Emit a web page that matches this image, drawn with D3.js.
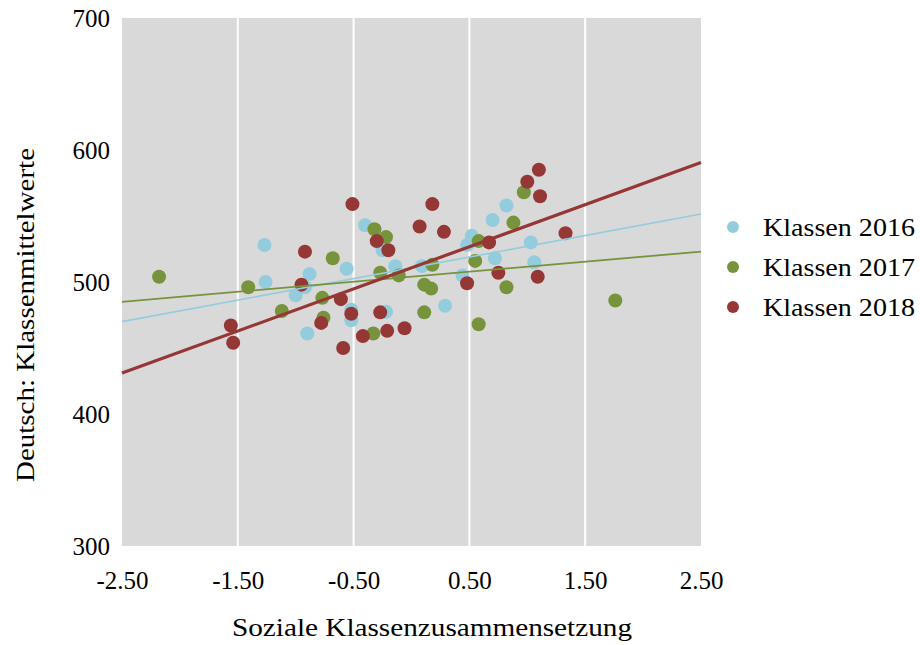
<!DOCTYPE html>
<html>
<head>
<meta charset="utf-8">
<script src="https://cdn.jsdelivr.net/npm/d3@7"></script>
<style>
  html, body { margin: 0; padding: 0; background: #ffffff; }
  svg text { font-family: "Liberation Serif", "DejaVu Serif", serif; fill: #000; }
</style>
</head>
<body>
<svg id="chart" width="920" height="645"></svg>
<script>
// Class means (Deutsch) against social composition of the class, per cohort
const klassen2016 = [
  [-1.27, 528], [-1.26, 500], [-0.88, 506], [-0.92, 496], [-1.00, 490], [-0.90, 461],
  [-0.56, 510], [-0.40, 543], [-0.25, 524], [-0.52, 479], [-0.52, 471], [-0.22, 477.5],
  [-0.14, 512], [0.09, 512], [0.29, 482], [0.44, 505], [0.52, 535], [0.48, 528],
  [0.72, 518], [0.70, 547], [0.82, 558], [1.03, 530], [1.06, 515]
];
const klassen2017 = [
  [-2.18, 504], [-1.41, 496], [-1.12, 478], [-0.68, 518], [-0.77, 488], [-0.76, 473],
  [-0.32, 540], [-0.22, 534], [-0.33, 461], [-0.27, 507], [-0.11, 505], [0.18, 513],
  [0.11, 498], [0.17, 495], [0.11, 477], [0.58, 531], [0.55, 516], [0.82, 496],
  [0.58, 468], [0.88, 545], [0.97, 568], [1.76, 486]
];
const klassen2018 = [
  [-1.56, 467], [-1.54, 454], [-0.92, 523], [-0.95, 498], [-0.61, 487], [-0.78, 469],
  [-0.51, 559], [-0.30, 531], [-0.20, 524], [-0.52, 476], [-0.27, 477], [-0.21, 463],
  [-0.42, 459], [-0.59, 450], [-0.06, 465], [0.07, 542], [0.18, 559], [0.28, 538],
  [0.48, 499], [0.67, 530], [0.75, 507], [1.00, 576], [1.10, 585], [1.11, 565],
  [1.09, 504], [1.33, 537]
];
// Linear trend lines: value at the left and right end of the x range
const trend2016 = [[-2.5, 470], [2.5, 551.5]];
const trend2017 = [[-2.5, 485], [2.5, 523]];
const trend2018 = [[-2.5, 431], [2.5, 590.5]];

const seriesNames = ["Klassen 2016", "Klassen 2017", "Klassen 2018"];
const xTicks = [-2.5, -1.5, -0.5, 0.5, 1.5, 2.5];
const yTicks = [300, 400, 500, 600, 700];

const colors = ["#93cddd", "#77933c", "#953735"];
const series = [
  { name: seriesNames[0], points: klassen2016, trend: trend2016, color: colors[0], lw: 1.6 },
  { name: seriesNames[1], points: klassen2017, trend: trend2017, color: colors[1], lw: 1.8 },
  { name: seriesNames[2], points: klassen2018, trend: trend2018, color: colors[2], lw: 3.2 }
];

const svg = d3.select("#chart");
const plot = { left: 122, top: 18, right: 701, bottom: 546 };

const x = d3.scaleLinear().domain([-2.5, 2.5]).range([plot.left, plot.right]);
const y = d3.scaleLinear().domain([300, 700]).range([plot.bottom, plot.top]);

// plot background
svg.append("rect")
  .attr("x", plot.left).attr("y", plot.top)
  .attr("width", plot.right - plot.left).attr("height", plot.bottom - plot.top)
  .attr("fill", "#d9d9d9");

// vertical gridlines
svg.append("g")
  .selectAll("line")
  .data(xTicks.slice(1, -1))
  .join("line")
  .attr("x1", d => x(d)).attr("x2", d => x(d))
  .attr("y1", plot.top).attr("y2", plot.bottom)
  .attr("stroke", "#ffffff").attr("stroke-width", 2);

// x axis labels (plain hyphen as minus sign)
const fmt2 = d => d.toFixed(2);
const xAxis = d3.axisBottom(x).tickValues(xTicks).tickFormat(fmt2).tickSize(0).tickPadding(25);
const gx = svg.append("g").attr("transform", `translate(0,${plot.bottom})`).call(xAxis);
gx.select(".domain").remove();
gx.selectAll("text").style("font-family", '"Liberation Serif", serif').style("font-size", "25px").attr("fill", "#000");

// y axis labels
const yAxis = d3.axisLeft(y).tickValues(yTicks).tickFormat(d => String(d)).tickSize(0).tickPadding(12);
const gy = svg.append("g").attr("transform", `translate(${plot.left},0)`).call(yAxis);
gy.select(".domain").remove();
gy.selectAll("text").style("font-family", '"Liberation Serif", serif').style("font-size", "25px").attr("fill", "#000");

// points
const pts = svg.append("g");
series.forEach(s => {
  pts.append("g")
    .selectAll("circle")
    .data(s.points)
    .join("circle")
    .attr("cx", d => x(d[0]))
    .attr("cy", d => y(d[1]))
    .attr("r", 7)
    .attr("fill", s.color);
});

// trend lines
const line = d3.line().x(d => x(d[0])).y(d => y(d[1]));
series.forEach(s => {
  svg.append("path")
    .attr("d", line(s.trend))
    .attr("fill", "none")
    .attr("stroke", s.color)
    .attr("stroke-width", s.lw);
});

// legend
const legend = svg.append("g");
series.forEach((s, i) => {
  const ly = 227 + i * 40;
  legend.append("circle").attr("cx", 733).attr("cy", ly).attr("r", 6).attr("fill", s.color);
  legend.append("text")
    .attr("x", 763).attr("y", ly)
    .attr("dy", "0.35em")
    .attr("textLength", 152)
    .attr("lengthAdjust", "spacingAndGlyphs")
    .style("font-size", "26px")
    .text(s.name);
});

// axis titles
svg.append("text")
  .attr("x", 432)
  .attr("y", 636)
  .attr("text-anchor", "middle")
  .attr("textLength", 400)
  .attr("lengthAdjust", "spacingAndGlyphs")
  .style("font-size", "26px")
  .text("Soziale Klassenzusammensetzung");

svg.append("text")
  .attr("transform", "translate(34,315) rotate(-90)")
  .attr("text-anchor", "middle")
  .attr("textLength", 334)
  .attr("lengthAdjust", "spacingAndGlyphs")
  .style("font-size", "26px")
  .text("Deutsch: Klassenmittelwerte");
</script>
</body>
</html>
